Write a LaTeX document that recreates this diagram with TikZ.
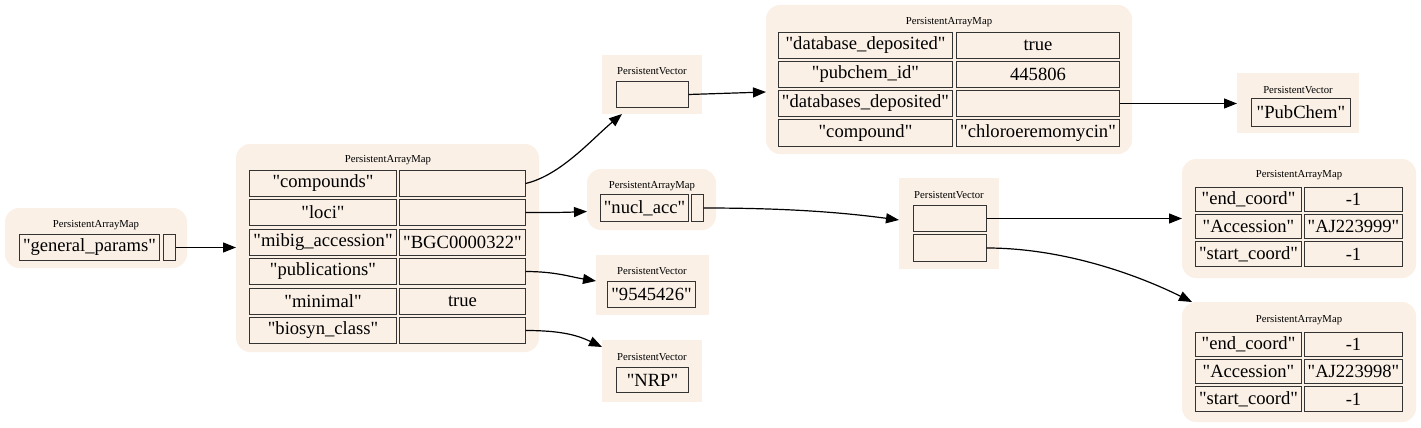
\documentclass[tikz,border=0pt]{standalone}
\usepackage{fontspec}
\setmainfont{Liberation Serif}[Ligatures=TeXOff]
\usetikzlibrary{arrows.meta}
\definecolor{linen}{HTML}{FAF0E6}
\tikzset{
  cellbox/.style={draw=black!80, line width=1.4pt, fill=linen, inner sep=0pt, outer sep=0pt,
    font=\fontsize{18.6}{20}\selectfont, text=black, align=center},
  mapbg/.style={fill=linen, draw=none, rounded corners=14pt, inner sep=0pt, outer sep=0pt},
  vecbg/.style={fill=linen, draw=none, inner sep=0pt, outer sep=0pt},
  lab/.style={font=\fontsize{10.7}{12}\selectfont, inner sep=0pt, text=black},
  conn/.style={line width=1.2pt, draw=black, -{Triangle[length=13pt,width=10pt]}}
}
% name, x1, y1, x2, y2, text
\newcommand\cellnode[6]{\node[cellbox, minimum width={(#4-#2-1)*1pt}, minimum height={(#5-#3-1)*1pt}]
  (#1) at ({(#2+#4)/2},{(#3+#5)/2}) {#6};}
\newcommand\bgnode[6]{\node[#6, minimum width={(#4-#2)*1pt}, minimum height={(#5-#3)*1pt}]
  (#1) at ({(#2+#4)/2},{(#3+#5)/2}) {};}
\begin{document}
\begin{tikzpicture}[x=1pt,y=-1pt]
\useasboundingbox (0,0) rectangle (1421,428);

% ---- backgrounds
\bgnode{m1bg}{5}{208}{187}{268}{mapbg}
\bgnode{m2bg}{236}{144}{539}{352}{mapbg}
\bgnode{v1bg}{602}{55}{702}{114}{vecbg}
\bgnode{nabg}{587}{169}{716}{230}{mapbg}
\bgnode{vpbg}{596}{255}{709}{315}{vecbg}
\bgnode{vnbg}{602}{340}{702}{402}{vecbg}
\bgnode{m3bg}{766}{5}{1132}{154}{mapbg}
\bgnode{pcbg}{1237}{73}{1359}{133}{vecbg}
\bgnode{v2bg}{899}{178}{999}{269}{vecbg}
\bgnode{m4bg}{1182}{159}{1416}{278}{mapbg}
\bgnode{m5bg}{1182}{302}{1416}{422}{mapbg}

% ---- labels
\node[lab] (m1lab) at (96,225) {PersistentArrayMap};
\node[lab] (m2lab) at (388,160) {PersistentArrayMap};
\node[lab] (v1lab) at (652,71) {PersistentVector};
\node[lab] (nalab) at (652,186) {PersistentArrayMap};
\node[lab] (vplab) at (652,271) {PersistentVector};
\node[lab] (vnlab) at (652,357) {PersistentVector};
\node[lab] (m3lab) at (949,22) {PersistentArrayMap};
\node[lab] (pclab) at (1298,90) {PersistentVector};
\node[lab] (v2lab) at (949,195) {PersistentVector};
\node[lab] (m4lab) at (1299,175) {PersistentArrayMap};
\node[lab] (m5lab) at (1299,320) {PersistentArrayMap};

% ---- map 1
\cellnode{gp}{19}{234}{160}{261}{"general\_params"}
\cellnode{gpv}{163}{234}{176}{261}{}

% ---- map 2
\cellnode{m2k1}{249}{170}{397}{197}{"compounds"}
\cellnode{m2v1}{399}{170}{526}{197}{}
\cellnode{m2k2}{249}{199}{397}{226}{"loci"}
\cellnode{m2v2}{399}{199}{526}{226}{}
\cellnode{m2k3}{249}{229}{397}{256}{"mibig\_accession"}
\cellnode{m2v3}{399}{229}{526}{256}{"BGC0000322"}
\cellnode{m2k4}{249}{258}{397}{285}{"publications"}
\cellnode{m2v4}{399}{258}{526}{285}{}
\cellnode{m2k5}{249}{288}{397}{315}{"minimal"}
\cellnode{m2v5}{399}{288}{526}{315}{true}
\cellnode{m2k6}{249}{317}{397}{344}{"biosyn\_class"}
\cellnode{m2v6}{399}{317}{526}{344}{}

% ---- vector 1
\cellnode{v1c}{616}{81}{689}{108}{}
% ---- nucl_acc map
\cellnode{nak}{600}{194}{689}{222}{"nucl\_acc"}
\cellnode{nav}{691}{194}{704}{222}{}
% ---- publications vector
\cellnode{vpc}{607}{281}{696}{308}{"9545426"}
% ---- NRP vector
\cellnode{vnc}{616}{367}{689}{393}{"NRP"}

% ---- map 3
\cellnode{m3k1}{778}{32}{953}{59}{"database\_deposited"}
\cellnode{m3v1}{956}{32}{1120}{59}{true}
\cellnode{m3k2}{778}{61}{953}{88}{"pubchem\_id"}
\cellnode{m3v2}{956}{61}{1120}{88}{445806}
\cellnode{m3k3}{778}{90}{953}{117}{"databases\_deposited"}
\cellnode{m3v3}{956}{90}{1120}{117}{}
\cellnode{m3k4}{778}{119}{953}{147}{"compound"}
\cellnode{m3v4}{956}{119}{1120}{147}{"chloroeremomycin"}

% ---- PubChem vector
\cellnode{pcc}{1251}{98}{1351}{127}{"PubChem"}

% ---- vector 2
\cellnode{v2c1}{913}{205}{987}{232}{}
\cellnode{v2c2}{913}{234}{987}{262}{}

% ---- map 4
\cellnode{m4k1}{1195}{187}{1302}{212}{"end\_coord"}
\cellnode{m4v1}{1304}{187}{1403}{212}{-1}
\cellnode{m4k2}{1195}{214}{1302}{239}{"Accession"}
\cellnode{m4v2}{1304}{214}{1403}{239}{"AJ223999"}
\cellnode{m4k3}{1195}{241}{1302}{267}{"start\_coord"}
\cellnode{m4v3}{1304}{241}{1403}{267}{-1}

% ---- map 5
\cellnode{m5k1}{1195}{332}{1302}{357}{"end\_coord"}
\cellnode{m5v1}{1304}{332}{1403}{357}{-1}
\cellnode{m5k2}{1195}{359}{1302}{384}{"Accession"}
\cellnode{m5v2}{1304}{359}{1403}{384}{"AJ223998"}
\cellnode{m5k3}{1195}{386}{1302}{412}{"start\_coord"}
\cellnode{m5v3}{1304}{386}{1403}{412}{-1}

% ---- connectors
\draw[conn] (gpv.east) -- (gpv.east -| m2bg.west);
\draw[conn] (m2v1.east) .. controls +(35,-8) and +(-30,25) .. ([xshift=20pt]v1bg.south west);
\draw[conn] (m2v2.east) .. controls +(30,0) and +(-25,1) .. ([yshift=-12pt]nabg.west);
\draw[conn] (m2v4.east) .. controls +(30,0) and +(-25,-4) .. ([yshift=4pt]vpbg.west);
\draw[conn] (m2v6.east) .. controls +(35,0) and +(-25,-12) .. ([yshift=24pt]vnbg.west);
\draw[conn] (v1c.east) -- ([yshift=-12.5pt]m3bg.west);
\draw[conn] (nav.east) .. controls +(80,0) and +(-60,-8) .. ([yshift=3.5pt]v2bg.west);
\draw[conn] (m3v3.east) -- (m3v3.east -| pcbg.west);
\draw[conn] (v2c1.east) -- (v2c1.east -| m4bg.west);
\draw[conn] (v2c2.east) .. controls +(80,0) and +(-50,-25) .. ([xshift=10pt]m5bg.north west);
\end{tikzpicture}
\end{document}
